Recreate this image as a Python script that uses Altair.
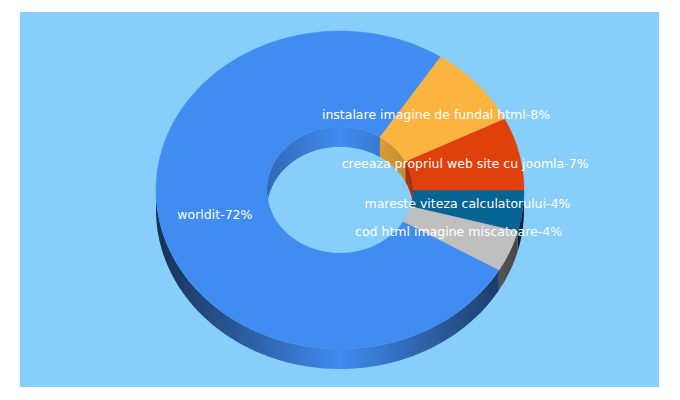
import math
import altair as alt
import pandas as pd

# Data: clockwise from the 3 o'clock position
names = ["mareste viteza calculatorului", "cod html imagine miscatoare", "worldit",
         "instalare imagine de fundal html", "creeaza propriul web site cu joomla"]
percents = [4, 4, 72, 8, 7]
colors = ["#056492", "#BFBFBF", "#418CF0", "#FCB441", "#E0400A"]
background = "#87CEFA"

# Layout of the tilted ring, in page pixels
CX, CY, RX, RY, DEPTH, HOLE = 340, 190, 184, 159, 20, 0.397
EDGE_SHADE, HOLE_SHADE = 0.65, 0.25
LABEL_LIFT = 0.8

total = sum(percents)
bounds = [0]
for p in percents:
    bounds.append(bounds[-1] + p / total * 360)


def pt(a, k=1.0):
    r = math.radians(a)
    return CX + RX * k * math.cos(r), CY + RY * k * math.sin(r)


def arc(a0, a1, k=1.0, step=0.5):
    n = max(2, int(abs(a1 - a0) / step))
    return [a0 + (a1 - a0) * i / n for i in range(n + 1)]


def shade(hex_color, f):
    c = [int(hex_color[i:i + 2], 16) for i in (1, 3, 5)]
    return "#%02x%02x%02x" % tuple(int(round(v * f)) for v in c)


def gradient(color, x0, x1, half, strength):
    lo, hi = min(x0, x1), max(x0, x1)
    f = lambda x: 1 - strength * abs(x - CX) / half
    offs = [lo, hi] if not lo < CX < hi else [lo, CX, hi]
    stops = [alt.GradientStop(offset=(x - lo) / (hi - lo), color=shade(color, f(x))) for x in offs]
    return alt.Gradient(gradient="linear", x1=0, x2=1, y1=0, y2=0, stops=stops)


X = alt.X("x:Q", scale=alt.Scale(domain=[8, 672], range=[0, 664], nice=False, zero=False), axis=None)
Y = alt.Y("y:Q", scale=alt.Scale(domain=[8, 392], range=[0, 384], nice=False, zero=False), axis=None)

layers = []

# Panel
panel = pd.DataFrame({"x": [20], "x2": [659], "y": [12], "y2": [387]})
layers.append(alt.Chart(panel).mark_rect(color=background).encode(x=X, x2="x2:Q", y=Y, y2="y2:Q"))

# Outer wall (front half only)
for i, color in enumerate(colors):
    a0, a1 = bounds[i], min(bounds[i + 1], 180)
    if a0 >= 180:
        continue
    rows = []
    for a in arc(a0, a1):
        x, y = pt(a)
        rows.append({"x": x, "y": y, "y2": y + DEPTH})
    grad = gradient(color, pt(a0)[0], pt(a1)[0], RX, EDGE_SHADE)
    layers.append(alt.Chart(pd.DataFrame(rows)).mark_area(color=grad).encode(x=X, y=Y, y2="y2:Q"))

# Inner wall (back half of the hole)
for i, color in enumerate(colors):
    a0, a1 = max(bounds[i], 180), bounds[i + 1]
    if a1 <= 180:
        continue
    rows = []
    for a in arc(a0, a1):
        x, y = pt(a, HOLE)
        low = 2 * CY - y  # lower rim of the hole at this x
        rows.append({"x": x, "y": y, "y2": min(y + DEPTH, low)})
    grad = gradient(color, pt(a0, HOLE)[0], pt(a1, HOLE)[0], RX * HOLE, HOLE_SHADE)
    layers.append(alt.Chart(pd.DataFrame(rows)).mark_area(color=grad).encode(x=X, y=Y, y2="y2:Q"))

# Top faces
for i, color in enumerate(colors):
    a0, a1 = bounds[i], bounds[i + 1]
    rows = [pt(a) for a in arc(a0, a1)] + [pt(a, HOLE) for a in arc(a1, a0)]
    df = pd.DataFrame(rows, columns=["x", "y"])
    df["o"] = range(len(df))
    layers.append(
        alt.Chart(df)
        .mark_line(filled=True, color=color, stroke=color, strokeWidth=0.4, interpolate="linear-closed")
        .encode(x=X, y=Y, order="o:Q")
    )

# Labels
labels = []
for i, (n, p) in enumerate(zip(names, percents)):
    x, y = pt((bounds[i] + bounds[i + 1]) / 2, (1 + HOLE) / 2)
    labels.append({"x": x, "y": y - LABEL_LIFT, "t": f"{n}-{p}%"})
layers.append(
    alt.Chart(pd.DataFrame(labels))
    .mark_text(color="white", font="DejaVu Sans", fontSize=12.5, align="center", baseline="middle")
    .encode(x=X, y=Y, text="t:N")
)

chart = (
    alt.layer(*layers)
    .properties(width=664, height=384, padding=0, background="white")
    .configure_view(strokeWidth=0)
)
chart.save("out.html", embed_options={"renderer": "svg", "actions": False})
